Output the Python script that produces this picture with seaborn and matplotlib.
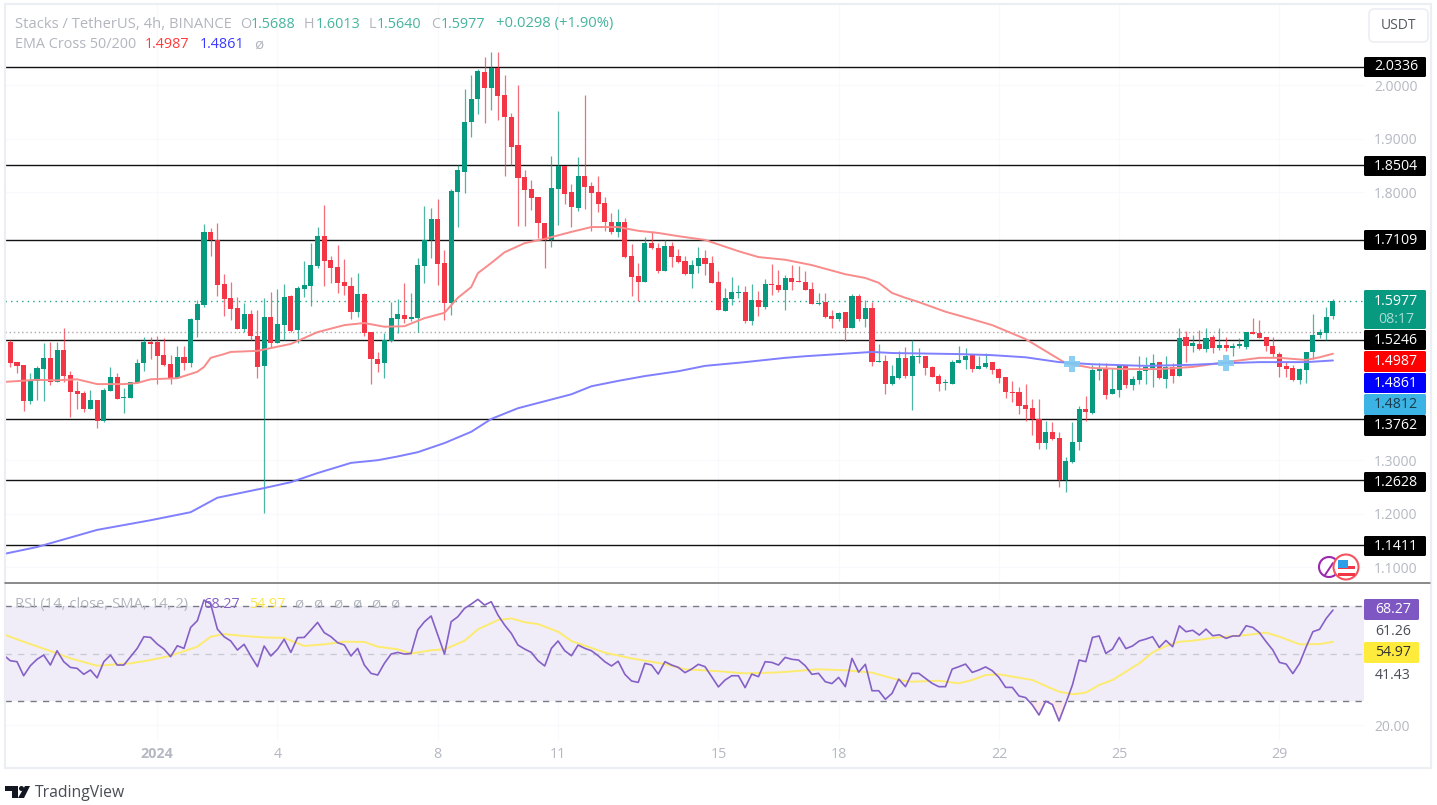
import numpy as np
import pandas as pd
import seaborn as sns
import matplotlib
matplotlib.use("Agg")
import matplotlib.pyplot as plt
from matplotlib.patches import FancyBboxPatch, Polygon, Circle, Rectangle

# ---------- data ----------
opens = [
1.521,1.483,1.478,1.410,1.448,1.470,1.491,1.446,1.506,1.459,
1.429,1.425,1.395,1.412,1.373,1.429,1.455,1.416,1.416,1.444,
1.481,1.521,1.521,1.496,1.479,1.453,1.492,1.481,1.562,1.590,
1.726,1.711,1.629,1.603,1.584,1.545,1.573,1.532,1.476,1.567,
1.519,1.552,1.606,1.543,1.619,1.625,1.662,1.718,1.674,1.660,
1.632,1.625,1.577,1.610,1.539,1.489,1.481,1.522,1.563,1.571,
1.563,1.565,1.662,1.711,1.750,1.668,1.593,1.800,1.838,1.931,
1.974,2.024,1.994,2.032,1.981,1.940,1.888,1.828,1.806,1.791,
1.743,1.711,1.806,1.849,1.800,1.771,1.830,1.812,1.800,1.780,
1.744,1.726,1.744,1.681,1.644,1.632,1.705,1.696,1.653,1.700,
1.681,1.672,1.647,1.662,1.677,1.668,1.632,1.578,1.601,1.612,
1.614,1.560,1.599,1.586,1.629,1.627,1.618,1.640,1.634,1.632,
1.619,1.591,1.595,1.569,1.563,1.577,1.547,1.606,1.563,1.584,
1.483,1.485,1.442,1.453,1.491,1.457,1.492,1.494,1.474,1.457,
1.444,1.442,1.481,1.487,1.496,1.470,1.474,1.483,1.470,1.455,
1.427,1.427,1.403,1.397,1.377,1.332,1.353,1.341,1.263,1.297,
1.334,1.395,1.388,1.466,1.472,1.423,1.431,1.478,1.440,1.450,
1.466,1.472,1.483,1.451,1.474,1.457,1.530,1.513,1.517,1.507,
1.530,1.509,1.515,1.509,1.513,1.511,1.539,1.537,1.530,1.513,
1.498,1.476,1.472,1.450,1.468,1.502,1.534,1.537,1.5688]
highs = [
1.524,1.483,1.478,1.463,1.476,1.519,1.521,1.521,1.547,1.466,
1.448,1.429,1.431,1.412,1.435,1.474,1.463,1.435,1.446,1.489,
1.530,1.530,1.532,1.528,1.496,1.513,1.513,1.565,1.599,1.741,
1.733,1.743,1.647,1.632,1.604,1.593,1.580,1.580,1.603,1.614,
1.619,1.629,1.608,1.625,1.672,1.705,1.735,1.776,1.681,1.701,
1.675,1.642,1.649,1.612,1.539,1.502,1.537,1.595,1.601,1.631,
1.612,1.677,1.774,1.771,1.787,1.692,1.806,1.851,1.993,2.019,
2.030,2.052,2.062,2.062,2.019,1.948,2.000,1.841,1.823,1.791,
1.743,1.868,1.951,1.849,1.815,1.866,1.981,1.819,1.830,1.791,
1.761,1.769,1.752,1.703,1.668,1.716,1.728,1.705,1.711,1.707,
1.694,1.681,1.674,1.698,1.692,1.681,1.653,1.621,1.642,1.627,
1.625,1.629,1.616,1.638,1.666,1.655,1.646,1.664,1.662,1.653,
1.632,1.612,1.612,1.580,1.577,1.577,1.610,1.610,1.599,1.595,
1.517,1.496,1.478,1.504,1.511,1.524,1.509,1.494,1.476,1.461,
1.451,1.487,1.513,1.509,1.496,1.494,1.500,1.483,1.472,1.455,
1.448,1.437,1.442,1.414,1.414,1.373,1.371,1.353,1.306,1.371,
1.401,1.420,1.478,1.481,1.481,1.472,1.478,1.478,1.457,1.494,
1.492,1.498,1.483,1.494,1.481,1.547,1.541,1.534,1.543,1.547,
1.534,1.547,1.530,1.519,1.528,1.539,1.565,1.562,1.530,1.530,
1.502,1.483,1.478,1.472,1.502,1.573,1.545,1.586,1.6013]
lows = [
1.474,1.463,1.392,1.405,1.412,1.410,1.440,1.446,1.446,1.381,
1.395,1.390,1.395,1.360,1.371,1.429,1.414,1.388,1.416,1.444,
1.466,1.489,1.442,1.476,1.442,1.453,1.468,1.474,1.530,1.586,
1.681,1.606,1.569,1.562,1.545,1.539,1.524,1.453,1.202,1.511,
1.519,1.524,1.539,1.519,1.604,1.588,1.659,1.625,1.631,1.612,
1.608,1.563,1.567,1.532,1.442,1.465,1.453,1.521,1.537,1.556,
1.560,1.539,1.631,1.677,1.627,1.562,1.571,1.735,1.798,1.903,
1.946,1.929,1.953,1.935,1.830,1.851,1.737,1.737,1.767,1.715,
1.659,1.698,1.739,1.778,1.735,1.765,1.769,1.728,1.763,1.728,
1.722,1.716,1.677,1.606,1.597,1.632,1.694,1.649,1.653,1.660,
1.668,1.646,1.621,1.649,1.646,1.631,1.580,1.578,1.590,1.603,
1.556,1.552,1.569,1.582,1.608,1.614,1.580,1.618,1.632,1.618,
1.591,1.590,1.565,1.547,1.560,1.522,1.547,1.560,1.548,1.476,
1.483,1.423,1.440,1.451,1.453,1.394,1.481,1.459,1.455,1.429,
1.431,1.442,1.481,1.470,1.465,1.470,1.472,1.461,1.444,1.416,
1.409,1.386,1.373,1.347,1.321,1.321,1.338,1.250,1.241,1.295,
1.319,1.373,1.386,1.450,1.414,1.423,1.418,1.435,1.431,1.442,
1.442,1.437,1.451,1.435,1.444,1.457,1.483,1.502,1.506,1.502,
1.500,1.506,1.504,1.494,1.509,1.507,1.535,1.528,1.504,1.492,
1.455,1.455,1.448,1.442,1.444,1.489,1.528,1.524,1.5640]
closes = [
1.481,1.476,1.410,1.448,1.472,1.491,1.446,1.506,1.457,1.427,
1.423,1.395,1.412,1.373,1.431,1.455,1.414,1.418,1.446,1.481,
1.521,1.517,1.494,1.478,1.453,1.492,1.481,1.563,1.591,1.726,
1.711,1.627,1.601,1.582,1.545,1.573,1.532,1.474,1.567,1.519,
1.554,1.604,1.541,1.621,1.627,1.664,1.718,1.672,1.659,1.631,
1.625,1.577,1.610,1.537,1.489,1.479,1.524,1.565,1.573,1.563,
1.567,1.664,1.711,1.750,1.666,1.593,1.802,1.841,1.931,1.974,
2.026,1.994,2.032,1.979,1.940,1.884,1.826,1.804,1.789,1.743,
1.711,1.808,1.849,1.797,1.772,1.830,1.810,1.798,1.778,1.744,
1.726,1.744,1.679,1.642,1.632,1.705,1.696,1.653,1.700,1.679,
1.670,1.647,1.664,1.677,1.666,1.631,1.580,1.603,1.614,1.614,
1.560,1.599,1.586,1.629,1.627,1.618,1.640,1.632,1.632,1.618,
1.591,1.593,1.567,1.563,1.575,1.547,1.606,1.563,1.584,1.483,
1.485,1.442,1.457,1.491,1.457,1.494,1.494,1.472,1.455,1.442,
1.446,1.483,1.487,1.494,1.470,1.476,1.481,1.468,1.453,1.427,
1.425,1.401,1.395,1.377,1.332,1.353,1.340,1.263,1.299,1.334,
1.395,1.390,1.468,1.472,1.422,1.433,1.478,1.440,1.451,1.466,
1.474,1.481,1.453,1.474,1.457,1.528,1.513,1.519,1.507,1.528,
1.509,1.515,1.509,1.513,1.517,1.539,1.535,1.528,1.513,1.498,
1.474,1.470,1.450,1.470,1.502,1.534,1.539,1.567,1.5977]

ema50_bar = [-1,4,7,10,13,17,19,21,25,28,29,30,32,33,37,42,46,50,53,56,59,62,65,67,69,70,72,74,77,80,84,87,91,94,97,100,104,109,112,116,120,125,128,130,132,134,136,140,144,147,152,156,158,162,167,172,177,182,187,190,194,196,198]
ema50 = [1.446,1.450,1.449,1.451,1.442,1.442,1.444,1.451,1.453,1.465,1.474,1.491,1.498,1.502,1.504,1.517,1.539,1.552,1.556,1.549,1.550,1.565,1.575,1.603,1.623,1.649,1.668,1.688,1.705,1.713,1.726,1.735,1.735,1.728,1.724,1.718,1.711,1.690,1.679,1.674,1.664,1.647,1.640,1.631,1.612,1.603,1.595,1.577,1.563,1.552,1.526,1.496,1.481,1.472,1.470,1.470,1.474,1.483,1.491,1.491,1.487,1.492,1.4987]
ema200_bar = [-1,4,13,21,27,31,38,42,46,51,55,58,61,65,69,72,76,80,84,87,91,95,100,104,110,116,119,124,129,132,142,147,152,157,162,170,177,182,187,194,198]
ema200 = [1.125,1.138,1.170,1.188,1.203,1.230,1.248,1.259,1.276,1.295,1.300,1.307,1.315,1.332,1.353,1.377,1.397,1.410,1.423,1.438,1.448,1.457,1.466,1.476,1.483,1.491,1.494,1.498,1.502,1.500,1.498,1.496,1.492,1.483,1.479,1.476,1.478,1.481,1.483,1.483,1.4861]
cross_bar = [159, 182]
cross_price = [1.479, 1.482]

levels = [2.0336, 1.8504, 1.7109, 1.5246, 1.3762, 1.2628, 1.1411]
last_price = 1.5977
prev_close = 1.540
price_ticks = [1.1, 1.2, 1.3, 1.8, 1.9, 2.0]

rsi = [49.4,
47.0,46.6,40.7,44.9,47.6,49.4,45.2,51.2,46.6,44.2,
43.8,41.3,43.1,39.8,46.6,49.4,45.2,45.2,48.7,52.2,
57.1,56.8,54.0,51.9,48.7,53.3,52.2,61.0,63.8,72.5,
70.8,60.3,57.1,55.3,51.5,53.9,49.0,44.5,53.2,49.0,
51.8,56.0,50.5,56.7,56.8,59.9,63.1,58.8,57.1,54.6,
53.6,49.0,52.2,45.2,41.7,41.0,45.9,49.8,50.5,49.8,
50.1,59.9,63.4,65.8,57.8,49.8,63.4,65.5,69.0,70.8,
72.8,70.4,71.8,66.2,62.0,58.5,53.6,51.9,50.5,47.0,
44.8,52.2,55.3,51.2,49.1,53.6,52.2,51.2,49.1,46.6,
44.8,46.8,41.3,38.5,37.9,45.9,45.2,41.4,46.6,45.2,
44.2,42.0,43.5,45.5,44.5,40.3,36.0,38.9,40.7,40.7,
35.7,41.4,40.3,46.6,46.3,45.2,48.4,47.6,47.3,44.9,
41.3,41.7,38.2,37.4,40.0,36.1,48.0,42.2,45.5,34.4,
34.4,30.8,33.3,39.3,36.1,41.7,41.7,39.6,37.5,36.1,
36.1,43.5,44.5,45.6,42.1,43.1,44.4,42.8,40.0,35.8,
35.8,32.2,31.5,28.4,24.2,30.0,28.6,21.7,29.1,36.8,
47.3,46.6,56.8,57.4,50.1,51.9,56.8,52.1,53.2,55.3,
56.1,57.1,52.6,55.5,52.9,61.7,59.2,59.8,57.8,60.3,
57.5,57.9,56.4,57.4,57.4,61.7,61.0,58.8,55.0,51.5,
46.3,45.6,41.6,45.9,52.9,59.2,60.2,64.8,68.27]
rsi_ma_bar = [-1,1,3,6,9,13,18,21,24,28,30,32,35,38,41,44,47,50,53,55,58,60,63,65,68,70,73,75,77,79,82,84,89,93,98,101,106,110,115,121,125,129,133,135,139,142,144,146,148,153,155,157,159,161,163,165,169,171,173,175,177,180,182,185,188,190,193,196,198]
rsi_ma = [58.1,56.0,54.0,51.1,48.0,44.9,45.9,47.3,49.1,52.9,57.1,58.2,57.4,56.8,56.6,53.2,53.9,55.0,54.9,52.9,51.8,50.0,51.4,51.8,55.4,60.2,64.1,64.8,63.2,62.4,59.2,55.3,50.4,48.0,45.6,43.4,42.6,41.7,42.1,43.4,43.0,42.0,38.9,38.2,38.6,37.5,38.9,41.0,41.3,38.9,36.4,34.0,32.9,33.6,36.8,38.9,45.9,50.5,53.2,55.0,55.4,56.6,57.1,57.8,58.8,57.1,53.9,54.0,54.97]

date_bars = [22, 40, 64, 82, 106, 124, 148, 166, 190]
date_labels = ["2024", "4", "8", "11", "15", "18", "22", "25", "29"]
hdr_ohlc = ["1.5688", "1.6013", "1.5640", "1.5977"]
hdr_change = "+0.0298 (+1.90%)"

# ---------- theme ----------
sns.set_theme(style="white")
FONT = ["Open Sans", "DejaVu Sans"]
plt.rcParams["font.family"] = FONT
plt.rcParams["axes.unicode_minus"] = False

UP, DOWN = "#089981", "#f23645"
GREY = "#b2b5be"
W, H = 1437, 805
fig = plt.figure(figsize=(W / 100, H / 100), dpi=100, facecolor="white")

def pane(x0, y0, x1, y1):
    return fig.add_axes([x0 / W, 1 - y1 / H, (x1 - x0) / W, (y1 - y0) / H])

BAR_LEFT, BAR_RIGHT = -0.793, 202.65
ax = pane(5, 5, 1364, 583)
rx = pane(5, 584, 1364, 741)

# ---------- candles ----------
o, h, l, c = map(np.array, (opens, highs, lows, closes))
bars = np.arange(len(o))
up = c >= o
cols = np.where(up, UP, DOWN)
ax.vlines(bars, l, h, colors=cols, linewidth=0.9, alpha=0.72, zorder=3)
ax.bar(bars, np.maximum(np.abs(c - o), 0.0022), bottom=np.minimum(o, c), width=0.76,
       color=cols, linewidth=0, zorder=4)

for v in levels:
    ax.axhline(v, color="#111111", linewidth=1.0, zorder=2)
ax.axhline(last_price, color=UP, linewidth=1.0, linestyle=(0, (1, 3)), alpha=0.9, zorder=2)
ax.axhline(prev_close, color="#a9a9a9", linewidth=1.0, linestyle=(0, (1, 2)), zorder=2)

sns.lineplot(x=ema50_bar, y=ema50, ax=ax, color="#f98b8b", linewidth=1.4, estimator=None, sort=False, zorder=5)
sns.lineplot(x=ema200_bar, y=ema200, ax=ax, color="#7f7fff", linewidth=1.4, estimator=None, sort=False, zorder=5)
ax.plot(cross_bar, cross_price, linestyle="none", marker="P", markersize=11, color="#7fcbf2",
        markeredgewidth=0, alpha=0.9, zorder=6)

ax.set_xlim(BAR_LEFT, BAR_RIGHT)
ax.set_ylim(1.0709, 2.1493)
ax.yaxis.tick_right()
ax.set_yticks(price_ticks)
ax.set_yticklabels([f"{v:.4f}" for v in price_ticks], color="#b5b8c2", fontsize=10)
ax.set_xticks(date_bars)
ax.tick_params(axis="x", length=0, labelbottom=False)
ax.tick_params(axis="y", length=0, pad=7.2)
ax.grid(True, color="#f8f9fc", linewidth=0.8)
ax.set_axisbelow(True)
ax.set_xlabel(""); ax.set_ylabel("")
for s in ax.spines.values():
    s.set_visible(False)

# ---------- RSI ----------
rsi_bars = np.arange(-1, len(rsi) - 1)
rsi_arr = np.array(rsi)
rx.axhspan(30, 70, color="#f0edf9", linewidth=0, zorder=1)
rx.fill_between(rsi_bars, rsi_arr, 30, where=rsi_arr < 30, interpolate=True, color="#fdeaea", linewidth=0, zorder=1.5)
rx.axhline(70, color="#787b86", linewidth=1.0, linestyle=(0, (4.5, 4.5)), zorder=2)
rx.axhline(50, color="#c9cad2", linewidth=1.0, linestyle=(0, (4.5, 4.5)), zorder=2)
rx.axhline(30, color="#787b86", linewidth=1.0, linestyle=(0, (4.5, 4.5)), zorder=2)
sns.lineplot(x=rsi_ma_bar, y=rsi_ma, ax=rx, color="#fdeb6f", linewidth=1.4, estimator=None, sort=False, zorder=3)
sns.lineplot(x=rsi_bars, y=rsi_arr, ax=rx, color="#8560c6", linewidth=1.2, estimator=None, sort=False, zorder=4)

rx.set_xlim(BAR_LEFT, BAR_RIGHT)
rx.set_ylim(50 + (653.6 - 741) / 2.38, 50 + (653.6 - 584) / 2.38)
rx.yaxis.tick_right()
rx.set_yticks([20])
rx.set_yticklabels(["20.00"], color="#b5b8c2", fontsize=10)
rx.set_xticks(date_bars)
rx.set_xticklabels(date_labels, color="#b5b8c2", fontsize=10.3)
rx.get_xticklabels()[0].set_fontweight("bold")
rx.tick_params(axis="x", length=0, pad=4.6)
rx.tick_params(axis="y", length=0, pad=7.2)
rx.grid(True, color="#f8f9fc", linewidth=0.8)
rx.set_axisbelow(True)
rx.set_xlabel(""); rx.set_ylabel("")
for s in rx.spines.values():
    s.set_visible(False)

# ---------- overlay in pixels: frame, tags, header, logo ----------
ov = fig.add_axes([0, 0, 1, 1], zorder=20)
ov.set_xlim(0, W); ov.set_ylim(H, 0); ov.axis("off"); ov.patch.set_alpha(0)

ov.add_patch(Rectangle((4.5, 4), 1426, 764, fill=False, edgecolor="#eceef4", linewidth=1.6))
ov.plot([5, 1430], [583, 583], color="#6a6a6a", linewidth=1.1)

def tag(txt, top, bot, bg, fg="white", right=1426, cx=1396, size=10.2):
    ov.add_patch(FancyBboxPatch((1364, top), right - 1364, bot - top, boxstyle="round,pad=0,rounding_size=1.5",
                                facecolor=bg, edgecolor="none", zorder=3))
    if txt:
        ov.text(cx, (top + bot) / 2, txt, color=fg, fontsize=size, ha="center", va="center", zorder=4)

tag(f"{levels[0]:.4f}", 57, 77, "black")
tag(f"{levels[1]:.4f}", 156, 176, "black")
tag(f"{levels[2]:.4f}", 230, 250, "black")
tag("", 290, 329, UP)
ov.text(1396, 301, f"{last_price:.4f}", color="white", fontsize=10.2, ha="center", va="center", zorder=4)
ov.text(1396, 319, "08:17", color="#a9dcd2", fontsize=10.2, ha="center", va="center", zorder=4)
tag(f"{levels[3]:.4f}", 330, 350, "black")
tag(f"{ema50[-1]:.4f}", 351, 372, "#ff0000")
tag(f"{ema200[-1]:.4f}", 373, 393, "#0000ff")
tag("1.4812", 394, 415, "#3bb3e4", fg="#1b3a4b")
tag(f"{levels[4]:.4f}", 415, 436, "black")
tag(f"{levels[5]:.4f}", 472, 492, "black")
tag(f"{levels[6]:.4f}", 536, 556, "black")
tag(f"{rsi[-1]:.2f}", 599, 620, "#7e57c2", right=1419, cx=1393)
tag(f"{rsi_ma[-1]:.2f}", 642, 663, "#ffeb3b", fg="#333333", right=1419, cx=1393)
ov.text(1393, 631, "61.26", color="#4a4d57", fontsize=10.2, ha="center", va="center")
ov.text(1393, 675, "41.43", color="#4a4d57", fontsize=10.2, ha="center", va="center")

# USDT button
ov.add_patch(FancyBboxPatch((1369, 9), 59, 33, boxstyle="round,pad=0,rounding_size=5",
                            facecolor="white", edgecolor="#eceef3", linewidth=1.2))
ov.text(1398.5, 25.5, "USDT", color="#55585f", fontsize=10, ha="center", va="center")

# header texts
def t(x, y, s, col=GREY, **kw):
    ov.text(x, y, s, color=col, fontsize=kw.pop("size", 10.4), ha=kw.pop("ha", "left"), va="center", **kw)

t(15, 24, "Stacks / TetherUS, 4h, BINANCE", size=10.6)
for lx, vx, name, val in zip((240, 304, 369, 431), (251, 316, 377, 441), "OHLC", hdr_ohlc):
    t(lx, 24, name)
    t(vx, 24, val, "#45b49f")
t(496, 24, hdr_change, "#45b49f", size=10.6)
t(15, 45, "EMA Cross 50/200")
t(145, 45, f"{ema50[-1]:.4f}", "#ff3b3b")
t(200, 45, f"{ema200[-1]:.4f}", "#3b3bff")
t(254, 45, "ø", size=11)
t(15, 604, "RSI (14, close, SMA, 14, 2)", size=10.6)
t(203, 604, f"{rsi[-1]:.2f}", "#8560c6")
t(249, 604, f"{rsi_ma[-1]:.2f}", "#fbe64b")
for x in (299, 318, 338, 357, 376, 395):
    t(x, 604, "ø", ha="center", size=11)

# currency icons
ov.add_patch(Circle((1329, 567), 10, facecolor="white", edgecolor="#9c27b0", linewidth=1.5))
ov.plot([1325, 1333], [575, 563], color="#9c27b0", linewidth=1.4)
ov.add_patch(Circle((1346, 567), 12.5, facecolor="white", edgecolor="#f7525f", linewidth=1.5, zorder=3))
for yy, hh in ((565.5, 3.5), (572.5, 3.0)):
    ov.add_patch(Rectangle((1337.5, yy), 17, hh, facecolor="#f23645", edgecolor="none", zorder=4))
ov.add_patch(Rectangle((1338, 560), 9.5, 8, facecolor="#2f9ee8", edgecolor="none", zorder=5))

# logo
ov.add_patch(Polygon([(5, 786), (18, 786), (18, 798), (12, 798), (12, 791), (5, 791)], facecolor="#131722", edgecolor="none"))
ov.add_patch(Circle((21.5, 788.5), 2.5, facecolor="#131722", edgecolor="none"))
ov.add_patch(Polygon([(25, 786), (30, 786), (24, 798), (18, 798)], facecolor="#131722", edgecolor="none"))
ov.text(35, 792.5, "TradingView", color="#4a4d57", fontsize=11.3, ha="left", va="center")

fig.savefig("out.png", dpi=100)
